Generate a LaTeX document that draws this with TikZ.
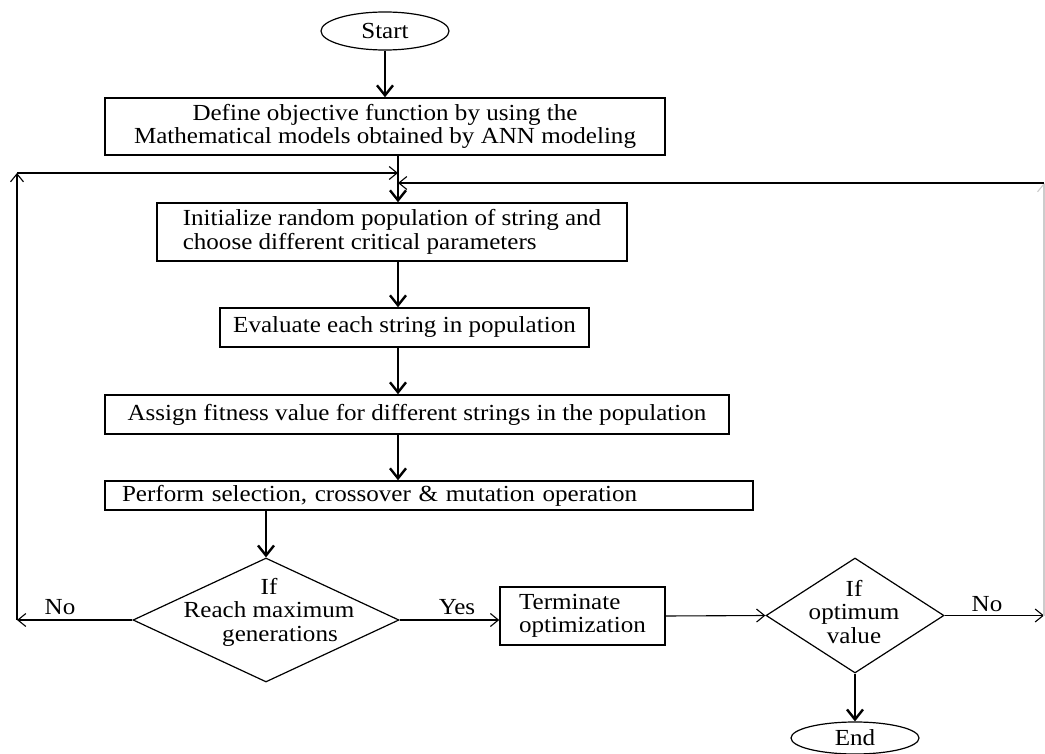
\documentclass[tikz,border=0pt]{standalone}
\usepackage{fontspec}
\setmainfont{Liberation Serif}[FakeStretch=1.09]
\usetikzlibrary{shapes.geometric,arrows.meta}
\begin{document}
\begin{tikzpicture}[x=1pt,y=-1pt,
  every node/.style={font=\fontsize{23}{23.5}\selectfont},
  procbox/.style={draw,line width=1.5pt,rectangle,inner sep=0pt},
  term/.style={draw,line width=1.2pt,ellipse,inner sep=0pt},
  decis/.style={draw,line width=1.2pt,diamond,inner sep=0pt},
  flow/.style={line width=2.4pt,-{Straight Barb[length=10pt,width=16pt]}},
  loopar/.style={line width=1.1pt,-{Straight Barb[length=8pt,width=13pt]}},
  lbl/.style={inner sep=0pt}]
\useasboundingbox (0,0) rectangle (1045,754);
\node[term,minimum width=128,minimum height=38] (start) at (385,31) {Start};
\node[procbox,minimum width=560,minimum height=57,align=center] (def) at (385,126.5) {Define objective function by using the\\Mathematical models obtained by ANN modeling};
\node[procbox,minimum width=470,minimum height=58,align=left] (init) at (392,232) {Initialize random population of string and\\choose different critical parameters};
\node[procbox,minimum width=369,minimum height=39] (eval) at (404.5,327.5) {Evaluate each string in population};
\node[procbox,minimum width=624,minimum height=39] (assign) at (417,414.5) {Assign fitness value for different strings in the population};
\node[procbox,minimum height=29,text width=614,inner xsep=17,align=left] (perf) at (429,495.5) {\raisebox{-2pt}{Perform selection, crossover \& mutation operation}};
\node[decis,minimum width=266,minimum height=124] (d1) at (266,620) {};
\node[lbl,align=center] (d1t) at (269,612) {If\\Reach maximum\hspace*{22pt}\\\hspace*{22pt}generations};
\node[procbox,minimum width=165,minimum height=58,align=left] (termn) at (582.5,616) {Terminate\\optimization};
\node[decis,minimum width=178,minimum height=115] (d2) at (855,615.5) {};
\node[lbl,align=center] (d2t) at (854,612) {If\\optimum\\value};
\node[term,minimum width=128,minimum height=32] (end) at (855,738) {End};
\node[lbl] (no1) at (60,607) {No};
\node[lbl] (yes) at (457,607) {Yes};
\node[lbl] (no2) at (987,604) {No};
\coordinate (sp) at (398,0);
\coordinate (jl) at (398,173);
\coordinate (jr) at (398,183);
\coordinate (cl) at (17,620);
\coordinate (cl2) at (17,173);
\coordinate (cr) at (1044,615.5);
\coordinate (cr2) at (1044,183);
\draw[flow] (start) -- (def);
\draw[flow] (sp |- def.south) -- (sp |- init.north);
\draw[flow] (sp |- init.south) -- (sp |- eval.north);
\draw[flow] (sp |- eval.south) -- (sp |- assign.north);
\draw[flow] (sp |- assign.south) -- (sp |- perf.north);
\draw[flow] (d1.north |- perf.south) -- (d1.north);
\draw[flow] (d2.south) -- (end.north);
\draw[loopar] (d1.west) -- (cl);
\draw[loopar] (cl) -- (cl2);
\draw[loopar] (cl2) -- (jl);
\draw[loopar] (d1.east) -- (d1.east -| termn.west);
\draw[loopar] (termn.east) -- (d2.west);
\draw[loopar] (d2.east) -- (cr);
\draw[loopar,gray!40] (cr) -- (cr2);
\draw[loopar] (cr2) -- (jr);
\end{tikzpicture}
\end{document}
